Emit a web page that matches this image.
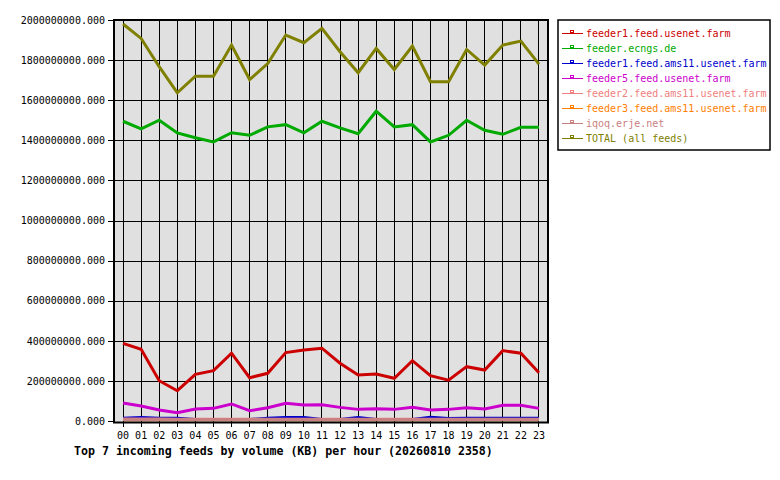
<!DOCTYPE html>
<html>
<head>
<meta charset="utf-8">
<script src="https://cdn.jsdelivr.net/npm/d3@7"></script>
<style>
  body { margin: 0; background: #fff; }
  text { font-family: "DejaVu Sans Mono", monospace; }
</style>
</head>
<body>
<div id="chart"></div>
<script>
// hourly volumes, in millions of KB
const hours = ["00", "01", "02", "03", "04", "05", "06", "07", "08", "09", "10", "11",
  "12", "13", "14", "15", "16", "17", "18", "19", "20", "21", "22", "23"];

const feeder1Usenet = [387, 358, 201, 151, 233, 251, 338, 216, 238, 341, 354, 363,
  288, 229, 234, 213, 301, 226, 204, 271, 254, 351, 338, 241];
const feederEcngs = [1495, 1457, 1500, 1437, 1413, 1392, 1438, 1425, 1467, 1478, 1437, 1495,
  1462, 1433, 1545, 1467, 1478, 1392, 1425, 1500, 1450, 1430, 1465, 1465];
const feeder1Ams11 = [14, 18, 14, 14, 7, 7, 7, 7, 14, 18, 18, 7,
  7, 17, 7, 7, 7, 19, 12, 14, 14, 14, 14, 14];
const feeder5Usenet = [90, 75, 55, 41, 60, 63, 85, 51, 66, 88, 80, 81,
  68, 58, 61, 58, 68, 55, 58, 66, 60, 78, 78, 63];
const feeder2Ams11 = [10, 10, 10, 9, 9, 9, 9, 9, 9, 9, 9, 9,
  9, 9, 9, 9, 9, 9, 9, 9, 9, 9, 9, 9];
const feeder3Ams11 = [6, 6, 6, 6, 6, 6, 6, 6, 6, 6, 6, 6,
  6, 6, 6, 6, 6, 6, 6, 6, 6, 6, 6, 6];
const iqoqErje = [8, 8, 8, 8, 8, 8, 8, 8, 8, 8, 8, 8,
  8, 8, 8, 8, 8, 8, 8, 8, 8, 8, 8, 8];
const totalAll = [1980, 1908, 1767, 1637, 1720, 1720, 1875, 1703, 1783, 1925, 1887, 1958,
  1842, 1737, 1858, 1753, 1870, 1692, 1692, 1853, 1775, 1875, 1895, 1780];

const seriesNames = ["feeder1.feed.usenet.farm", "feeder.ecngs.de", "feeder1.feed.ams11.usenet.farm",
  "feeder5.feed.usenet.farm", "feeder2.feed.ams11.usenet.farm", "feeder3.feed.ams11.usenet.farm",
  "iqoq.erje.net", "TOTAL (all feeds)"];
const seriesValues = [feeder1Usenet, feederEcngs, feeder1Ams11, feeder5Usenet,
  feeder2Ams11, feeder3Ams11, iqoqErje, totalAll];
const seriesColors = ["#cc0000", "#00aa00", "#0000cc", "#cc00cc",
  "#f08080", "#ff8000", "#c88080", "#808000"];

const titleText = "Top 7 incoming feeds by volume (KB) per hour (20260810 2358)";

const width = 780;
const height = 480;
const plot = { left: 114, right: 548, top: 20, bottom: 421 };

const svg = d3
  .select("#chart")
  .append("svg")
  .attr("width", width)
  .attr("height", height);

svg.append("rect").attr("width", width).attr("height", height).attr("fill", "#fff");

const xScale = d3
  .scaleBand()
  .domain(hours)
  .range([plot.left, plot.right]);
const xPos = (h) => xScale(h) + xScale.bandwidth() / 2;

const yScale = d3
  .scaleLinear()
  .domain([0, 2000])
  .range([plot.bottom, plot.top]);

// plot background
svg
  .append("rect")
  .attr("x", plot.left)
  .attr("y", plot.top)
  .attr("width", plot.right - plot.left)
  .attr("height", plot.bottom - plot.top + 1)
  .attr("fill", "#e0e0e0");

// horizontal grid + y ticks
const yAxis = d3
  .axisLeft(yScale)
  .tickValues(d3.range(200, 2001, 200))
  .tickSize(plot.right - plot.left + 6)
  .tickFormat((d) => `${d * 1000000}.000`);

const gy = svg
  .append("g")
  .attr("transform", "translate(" + plot.right + ",0)")
  .call(yAxis);
gy.select(".domain").remove();
gy.selectAll("line").attr("stroke", "#000").attr("shape-rendering", "crispEdges");
gy.selectAll("text")
  .attr("x", -(plot.right - plot.left) - 9)
  .attr("font-size", "10px")
  .attr("fill", "#000")
  .attr("font-family", "DejaVu Sans Mono, monospace");

// zero label sits on the bottom border
svg
  .append("line")
  .attr("x1", plot.left - 6)
  .attr("x2", plot.left)
  .attr("y1", yScale(0) + 0.5)
  .attr("y2", yScale(0) + 0.5)
  .attr("stroke", "#000");
svg
  .append("text")
  .attr("x", plot.left - 9)
  .attr("y", yScale(0))
  .attr("dy", "0.35em")
  .attr("text-anchor", "end")
  .attr("font-size", "10px")
  .attr("fill", "#000")
  .text(`${0}.000`);

// vertical grid + x ticks
const xAxis = d3
  .axisBottom(xScale)
  .tickSize(plot.bottom - plot.top + 6)
  .tickPadding(5);

const gx = svg
  .append("g")
  .attr("transform", "translate(0," + plot.top + ")")
  .call(xAxis);
gx.select(".domain").remove();
gx.selectAll("line").attr("stroke", "#000").attr("shape-rendering", "crispEdges");
gx.selectAll("text")
  .attr("font-size", "10px")
  .attr("fill", "#000")
  .attr("font-family", "DejaVu Sans Mono, monospace");

// series lines
const line = d3
  .line()
  .x((d, i) => xPos(hours[i]))
  .y((d) => yScale(d));

seriesValues.forEach((vals, i) => {
  svg
    .append("path")
    .datum(vals)
    .attr("fill", "none")
    .attr("stroke", seriesColors[i])
    .attr("stroke-width", 3)
    .attr("stroke-linejoin", "miter")
    .attr("d", line);
});

// plot border
svg
  .append("path")
  .attr("d", `M${plot.left},${plot.top}H${plot.right}V${plot.bottom + 1.5}H${plot.left}Z`)
  .attr("fill", "none")
  .attr("stroke", "#000")
  .attr("stroke-width", 2);

// title
svg
  .append("text")
  .attr("x", 74)
  .attr("y", 455)
  .attr("font-size", "11.6px")
  .attr("font-weight", "bold")
  .attr("fill", "#000")
  .text(titleText);

// legend
const legend = svg.append("g");
legend
  .append("rect")
  .attr("x", 558)
  .attr("y", 20)
  .attr("width", 212)
  .attr("height", 130)
  .attr("fill", "#fff")
  .attr("stroke", "#000")
  .attr("stroke-width", 1.5);

seriesNames.forEach((name, i) => {
  const y = 33 + i * 15;
  legend
    .append("line")
    .attr("x1", 562)
    .attr("x2", 583)
    .attr("y1", y)
    .attr("y2", y)
    .attr("stroke", seriesColors[i])
    .attr("stroke-width", 1)
    .attr("shape-rendering", "crispEdges");
  legend
    .append("rect")
    .attr("x", 570.5)
    .attr("y", y - 2.5)
    .attr("width", 3)
    .attr("height", 2)
    .attr("fill", "none")
    .attr("stroke", seriesColors[i])
    .attr("stroke-width", 1)
    .attr("shape-rendering", "crispEdges");
  legend
    .append("text")
    .attr("x", 586)
    .attr("y", y)
    .attr("dy", "0.35em")
    .attr("font-size", "10px")
    .attr("fill", seriesColors[i])
    .text(name);
});
</script>
</body>
</html>
